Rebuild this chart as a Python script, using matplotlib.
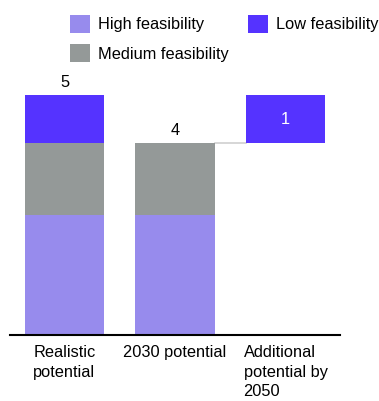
import matplotlib
matplotlib.use('Agg')
import matplotlib.pyplot as plt
import numpy as np

plt.rcParams['font.family'] = ['Liberation Sans', 'DejaVu Sans']

categories = ['Realistic\npotential', '2030 potential', 'Additional\npotential by\n2050']
high = [2.5, 2.5, 0]
medium = [1.5, 1.5, 0]
low = [1, 0, 1]
total_labels = ['5', '4']
added_label = '1'

c_high = '#978bed'
c_med = '#949998'
c_low = '#5533ff'
fs = 11.8

fig = plt.figure(figsize=(3.79, 4.01), dpi=100)
ax = fig.add_axes([10/379, 66/401, 330/379, 240/401])

x = np.arange(len(categories))
w = 0.715
high = np.array(high)
medium = np.array(medium)
low = np.array(low)

ax.bar(x[:2], high[:2], w, color=c_high, label='High feasibility')
ax.bar(x[:2], medium[:2], w, bottom=high[:2], color=c_med, label='Medium feasibility')
ax.bar(x[:1], low[:1], w, bottom=high[:1] + medium[:1], color=c_low, label='Low feasibility')

# waterfall step: additional potential floats on top of the 2030 potential
base3 = high[1] + medium[1]
ax.bar(x[2], low[2], w, bottom=base3, color=c_low)
ax.plot([x[1] + w/2, x[2] - w/2], [base3, base3], color='#d0d0d0', lw=1.2, zorder=0)

tops = high + medium + low
for i, t in enumerate(total_labels):
    ax.annotate(t, (x[i], tops[i]), xytext=(0, 3.5), textcoords='offset points',
                ha='center', va='bottom', fontsize=fs, color='black')
ax.text(x[2], base3 + low[2] / 2, added_label, ha='center', va='center',
        fontsize=fs, color='white')

ax.set_xlim(-0.493, 2.493)
ax.set_ylim(0, 5)
ax.set_yticks([])
ax.set_xticks(x)
ax.set_xticklabels(categories, fontsize=fs, multialignment='left', linespacing=1.4)
ax.tick_params(axis='x', length=0, pad=7)
for s in ['top', 'right', 'left']:
    ax.spines[s].set_visible(False)
ax.spines['bottom'].set_linewidth(1.5)
ax.spines['bottom'].set_color('black')

h, l = ax.get_legend_handles_labels()
fig.legend(h, l, loc='upper left', bbox_to_anchor=(70/379, 1 - 15/401), ncol=2,
           frameon=False, fontsize=fs, borderpad=0, borderaxespad=0,
           handlelength=1.2, handleheight=1.3, handletextpad=0.5,
           columnspacing=1.2, labelspacing=0.7)

fig.savefig('out.png', dpi=100)
